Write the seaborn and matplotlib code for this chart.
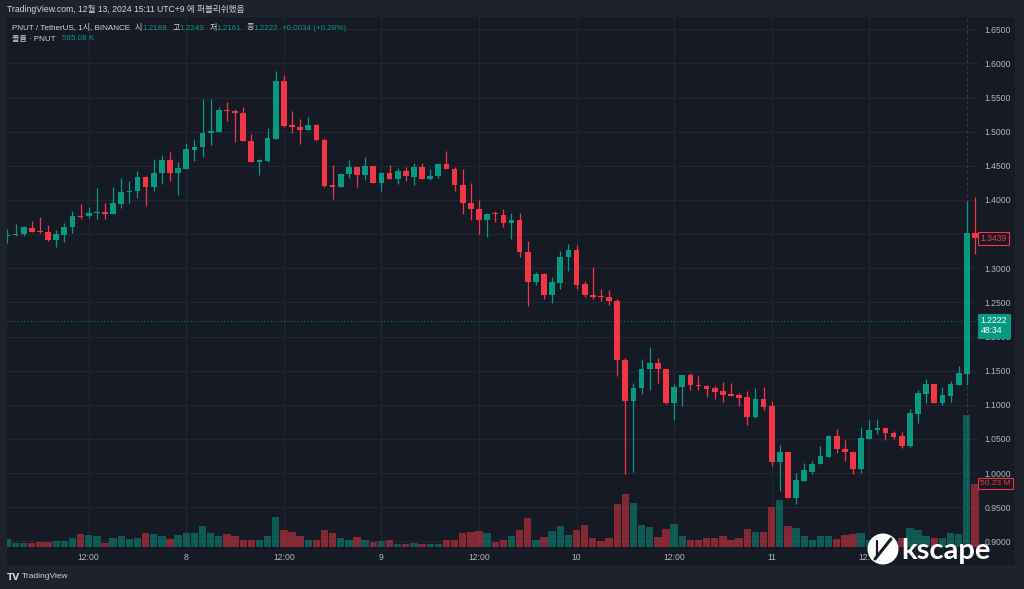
import numpy as np
import pandas as pd
import matplotlib
matplotlib.use("Agg")
import matplotlib.pyplot as plt
import matplotlib.transforms as mtransforms
from matplotlib.patches import Rectangle, Ellipse
from matplotlib.lines import Line2D
import seaborn as sns

# ---------------- data (PNUT/USDT, 1h candles) ----------------
opens = [
    1.3468, 1.3483, 1.3508, 1.3595, 1.3542, 1.3537, 1.3410, 1.3493, 1.3605, 1.3771,
    1.3761, 1.3805, 1.3820, 1.3795, 1.3947, 1.4113, 1.4132, 1.4342, 1.4186, 1.4396,
    1.4586, 1.4401, 1.4449, 1.4737, 1.4776, 1.4981, 1.5001, 1.5318, 1.5303, 1.5279,
    1.4864, 1.4562, 1.4571, 1.4893, 1.5743, 1.5094, 1.5069, 1.5020, 1.5103, 1.4879,
    1.4215, 1.4196, 1.4381, 1.4484, 1.4362, 1.4493, 1.4254, 1.4396, 1.4313, 1.4425,
    1.4342, 1.4479, 1.4303, 1.4357, 1.4527, 1.4459, 1.4220, 1.3956, 1.3869, 1.3708,
    1.3810, 1.3785, 1.3663, 1.3703, 1.3239, 1.2805, 1.2912, 1.2614, 1.2780, 1.3161,
    1.3268, 1.2766, 1.2609, 1.2585, 1.2580, 1.2517, 1.1663, 1.1062, 1.1253, 1.1521,
    1.1609, 1.1526, 1.1023, 1.1258, 1.1433, 1.1292, 1.1282, 1.1243, 1.1199, 1.1155,
    1.1145, 1.1116, 1.0823, 1.1087, 1.0979, 1.0165, 1.0306, 0.9637, 0.9891, 1.0018,
    1.0135, 1.0243, 1.0545, 1.0355, 1.0316, 1.0057, 1.0506, 1.0628, 1.0667, 1.0589,
    1.0545, 1.0399, 1.0867, 1.1165, 1.1306, 1.1033, 1.1131, 1.1297, 1.1453, 1.3512,
]
highs = [
    1.3571, 1.3649, 1.3615, 1.3693, 1.3747, 1.3630, 1.3556, 1.3659, 1.3844, 1.3942,
    1.3898, 1.4176, 1.3956, 1.4186, 1.4322, 1.4283, 1.4420, 1.4347, 1.4596, 1.4654,
    1.4703, 1.4557, 1.4840, 1.4889, 1.5484, 1.5474, 1.5362, 1.5435, 1.5333, 1.5362,
    1.4967, 1.4596, 1.5054, 1.5894, 1.5830, 1.5308, 1.5191, 1.5220, 1.5108, 1.4908,
    1.4508, 1.4391, 1.4586, 1.4484, 1.4625, 1.4498, 1.4410, 1.4508, 1.4464, 1.4484,
    1.4537, 1.4547, 1.4449, 1.4537, 1.4723, 1.4479, 1.4449, 1.4249, 1.3996, 1.3805,
    1.3839, 1.3873, 1.3810, 1.3810, 1.3405, 1.2946, 1.2931, 1.2868, 1.3249, 1.3356,
    1.3346, 1.2809, 1.3014, 1.2702, 1.2683, 1.2551, 1.1682, 1.1321, 1.1672, 1.1843,
    1.1687, 1.1526, 1.1306, 1.1443, 1.1463, 1.1424, 1.1292, 1.1277, 1.1336, 1.1326,
    1.1180, 1.1209, 1.1243, 1.1263, 1.1053, 1.0413, 1.0306, 1.0003, 1.0155, 1.0179,
    1.0399, 1.0560, 1.0653, 1.0482, 1.0326, 1.0682, 1.0784, 1.0789, 1.0677, 1.0623,
    1.0609, 1.0936, 1.1219, 1.1380, 1.1306, 1.1258, 1.1355, 1.1575, 1.3990, 1.4049,
]
lows = [
    1.3371, 1.3478, 1.3478, 1.3527, 1.3522, 1.3405, 1.3307, 1.3390, 1.3512, 1.3717,
    1.3737, 1.3727, 1.3727, 1.3795, 1.3888, 1.3952, 1.4025, 1.3913, 1.4127, 1.4240,
    1.4274, 1.4078, 1.4449, 1.4571, 1.4630, 1.4810, 1.5001, 1.5157, 1.4854, 1.4859,
    1.4552, 1.4371, 1.4562, 1.4888, 1.5064, 1.4981, 1.4815, 1.5020, 1.4864, 1.4196,
    1.4010, 1.4196, 1.4327, 1.4186, 1.4298, 1.4254, 1.4127, 1.4303, 1.4235, 1.4283,
    1.4225, 1.4303, 1.4293, 1.4322, 1.4449, 1.4137, 1.3795, 1.3712, 1.3508, 1.3454,
    1.3683, 1.3610, 1.3434, 1.3171, 1.2448, 1.2761, 1.2546, 1.2497, 1.2702, 1.2966,
    1.2702, 1.2575, 1.2546, 1.2517, 1.2458, 1.1424, 0.9994, 1.0013, 1.1165, 1.1219,
    1.1326, 1.1014, 1.0779, 1.0989, 1.1219, 1.1219, 1.1116, 1.1082, 1.1043, 1.1136,
    1.0984, 1.0711, 1.0813, 1.0926, 1.0111, 0.9735, 0.9632, 0.9550, 0.9881, 0.9989,
    1.0135, 1.0233, 1.0291, 1.0184, 0.9984, 1.0008, 1.0496, 1.0574, 1.0487, 1.0506,
    1.0374, 1.0389, 1.0740, 1.1033, 1.1033, 1.0994, 1.1048, 1.1297, 1.1297, 1.3210,
]
closes = [
    1.3493, 1.3508, 1.3610, 1.3532, 1.3527, 1.3410, 1.3503, 1.3605, 1.3766, 1.3756,
    1.3810, 1.3815, 1.3795, 1.3956, 1.4113, 1.4132, 1.4332, 1.4186, 1.4396, 1.4586,
    1.4401, 1.4469, 1.4742, 1.4776, 1.4981, 1.5006, 1.5318, 1.5298, 1.5274, 1.4864,
    1.4557, 1.4581, 1.4903, 1.5743, 1.5089, 1.5069, 1.5020, 1.5103, 1.4874, 1.4205,
    1.4196, 1.4386, 1.4484, 1.4362, 1.4493, 1.4254, 1.4396, 1.4313, 1.4425, 1.4347,
    1.4479, 1.4303, 1.4357, 1.4527, 1.4449, 1.4220, 1.3956, 1.3864, 1.3708, 1.3795,
    1.3800, 1.3663, 1.3703, 1.3244, 1.2805, 1.2912, 1.2614, 1.2800, 1.3166, 1.3268,
    1.2761, 1.2605, 1.2575, 1.2575, 1.2517, 1.1658, 1.1062, 1.1253, 1.1526, 1.1609,
    1.1521, 1.1023, 1.1258, 1.1433, 1.1287, 1.1277, 1.1238, 1.1189, 1.1150, 1.1136,
    1.1106, 1.0828, 1.1087, 1.0975, 1.0165, 1.0316, 0.9637, 0.9896, 1.0043, 1.0140,
    1.0247, 1.0545, 1.0350, 1.0311, 1.0057, 1.0521, 1.0633, 1.0667, 1.0584, 1.0535,
    1.0394, 1.0887, 1.1170, 1.1306, 1.1033, 1.1141, 1.1306, 1.1463, 1.3522, 1.3439,
]
volumes_m = [
    6.1, 3.4, 2.9, 2.9, 3.7, 4.2, 4.8, 4.8, 7.1, 10.0,
    9.3, 9.0, 2.9, 7.1, 8.5, 6.1, 7.1, 10.8, 10.0, 8.5,
    6.6, 9.3, 11.1, 11.1, 16.4, 11.1, 8.5, 10.0, 9.0, 5.3,
    5.3, 5.8, 9.0, 23.8, 13.2, 11.6, 9.0, 5.8, 5.3, 13.7,
    11.1, 6.9, 5.3, 7.9, 5.8, 4.2, 4.8, 5.3, 2.6, 2.4,
    3.2, 2.4, 2.4, 2.1, 5.3, 5.3, 11.1, 11.6, 12.7, 11.1,
    4.2, 5.8, 9.0, 13.2, 22.7, 5.8, 7.9, 12.7, 16.9, 9.5,
    13.7, 17.5, 7.4, 4.8, 7.4, 33.8, 42.3, 34.9, 17.5, 15.9,
    7.9, 14.3, 18.0, 9.0, 5.8, 5.3, 7.4, 7.4, 8.5, 5.8,
    7.4, 14.3, 12.2, 12.2, 31.7, 37.0, 16.4, 14.8, 8.5, 5.3,
    8.5, 9.0, 6.3, 9.5, 10.0, 11.1, 5.8, 5.3, 5.3, 4.8,
    6.9, 15.3, 13.2, 8.5, 7.4, 6.9, 11.1, 10.0, 104.7, 50.23,
]
time_tick_idx = [10, 22, 34, 46, 58, 70, 82, 94, 106]
time_tick_labels = ["12:00", "8", "12:00", "9", "12:00", "10", "12:00", "11", "12:00"]
price_ticks = [0.90, 0.95, 1.00, 1.05, 1.10, 1.15, 1.20, 1.25, 1.30,
               1.35, 1.40, 1.45, 1.50, 1.55, 1.60, 1.65]
last_price = 1.3439
cross_price = 1.2222
last_volume = 50.23
legend_pieces = [("PNUT / TetherUS, 1시, BINANCE", "lab", 4), ("시", "lab", -1), ("1.2188", "val", 4),
                 ("고", "lab", -1), ("1.2249", "val", 4), ("저", "lab", -1), ("1.2161", "val", 4),
                 ("종", "lab", -1), ("1.2222", "val", 3), ("+0.0034 (+0.28%)", "val", 0)]
volume_pieces = [("볼륨 · PNUT", "lab", 5), ("585.08 K", "val", 0)]

# ---------------- style ----------------
W, H = 1024, 589
BG = "#161a25"
FRAME = "#1e222d"
GRID = "#222632"
UP = "#089981"
DN = "#f23645"
TXT = "#b2b5be"
HDR = "#d1d4dc"
LAT = ["Liberation Sans", "Noto Sans CJK KR", "DejaVu Sans"]

sns.set_theme(style="dark")
plt.rcParams["font.family"] = ["Noto Sans CJK KR", "DejaVu Sans"]

fig = plt.figure(figsize=(W / 100, H / 100), dpi=100, facecolor=FRAME)


def fx(px):
    return px / W


def fy(py):
    return 1 - py / H


fig.patches.append(Rectangle((fx(7), fy(565)), fx(1015) - fx(7), fy(17) - fy(565),
                             transform=fig.transFigure, facecolor=BG,
                             edgecolor="none", zorder=-1))

pos = [fx(7), fy(547), fx(979) - fx(7), fy(17) - fy(547)]
ax = fig.add_axes(pos)
ax.set_facecolor(BG)
axv = fig.add_axes(pos)
axv.patch.set_alpha(0)

df = pd.DataFrame({"idx": np.arange(len(opens)), "open": opens, "high": highs,
                   "low": lows, "close": closes, "vol": volumes_m})
df["dir"] = np.where(df["close"] >= df["open"], "up", "down")
colors = np.where(df["dir"] == "up", UP, DN)

# wicks and bodies
ax.vlines(df["idx"], df["low"], df["high"], colors=colors, linewidth=0.9, zorder=3)
body_bottom = np.minimum(df["open"], df["close"])
body_h = np.maximum((df["close"] - df["open"]).abs(), 0.0013)
ax.bar(df["idx"], body_h, bottom=body_bottom, width=0.7, color=colors,
       linewidth=0, zorder=4)

# volume (seaborn)
sns.barplot(data=df, x="idx", y="vol", hue="dir", palette={"up": UP, "down": DN},
            native_scale=True, dodge=False, width=0.9, errorbar=None, legend=False,
            saturation=1, alpha=0.5, linewidth=0, ax=axv)

xlim = (-0.05, 119.5)
ax.set_xlim(*xlim)
axv.set_xlim(*xlim)
ax.set_ylim(0.8918, 1.6680)
axv.set_ylim(0, 420.6)
axv.axis("off")

# grid & ticks
ax.set_xticks(time_tick_idx)
ax.set_xticklabels(time_tick_labels)
ax.yaxis.tick_right()
ax.set_yticks(price_ticks)
ax.set_yticklabels([f"{p:.4f}" for p in price_ticks])
ax.grid(True, color=GRID, linewidth=0.9)
ax.tick_params(axis="x", length=0, pad=4.5, labelsize=6.2, labelcolor=TXT)
ax.tick_params(axis="y", length=0, pad=4.0, labelsize=6.2, labelcolor=TXT)
for t in ax.get_xticklabels() + ax.get_yticklabels():
    t.set_fontfamily(["Liberation Sans", "DejaVu Sans"])
for s in ax.spines.values():
    s.set_visible(False)
ax.set_xlabel("")
ax.set_ylabel("")

# crosshair lines
ax.axhline(cross_price, color=UP, linestyle=(0, (1, 2)), linewidth=0.8, alpha=0.7, zorder=2)
ax.axvline(118, color="#3b3f4b", linewidth=0.6, linestyle=(0, (4, 3)), zorder=1)

# price labels on the right
tr = mtransforms.blended_transform_factory(ax.transAxes, ax.transData)
ax.text(1.0015, last_price, f"{last_price:.4f}", transform=tr, ha="left", va="center",
        color=DN, fontsize=6.2, family=["Liberation Sans"], zorder=10,
        bbox=dict(boxstyle="square,pad=0.25", fc=BG, ec=DN, lw=0.8))
ax.text(1.0015, cross_price - 0.0062, f"{cross_price:.4f}\n48:34", transform=tr,
        ha="left", va="center", color="white", fontsize=6.2, linespacing=1.15,
        family=["Liberation Sans"], zorder=10,
        bbox=dict(boxstyle="square,pad=0.3", fc=UP, ec=UP, lw=0.8))
trv = mtransforms.blended_transform_factory(axv.transAxes, axv.transData)
axv.text(1.0015, last_volume, f"{last_volume:.2f} M", transform=trv, ha="left",
         va="center", color=DN, fontsize=6.0, family=["Liberation Sans"], zorder=10,
         bbox=dict(boxstyle="square,pad=0.25", fc=BG, ec=DN, lw=0.8))

# header texts
fig.text(fx(7), fy(10), "TradingView.com, 12월 13, 2024 15:11 UTC+9 에 퍼블리쉬했음",
         color=HDR, fontsize=6.2, va="center", ha="left", family=LAT)

renderer = fig.canvas.get_renderer()


def lay_out(pieces, x0, ypx, size):
    x = x0
    for txt, kind, gap in pieces:
        t = fig.text(fx(x), fy(ypx), txt, color=(UP if kind == "val" else HDR),
                     fontsize=size, va="center", ha="left", family=LAT)
        bb = t.get_window_extent(renderer=renderer)
        x = x + bb.width + 1 + gap


lay_out(legend_pieces, 12, 28, 5.8)
lay_out(volume_pieces, 12, 39, 5.8)

# footer TradingView mark
fig.text(fx(7), fy(577), "TV", color=HDR, fontsize=6.5, fontweight="bold", va="center",
         family=["DejaVu Sans"])
fig.text(fx(22), fy(577), "TradingView", color=HDR, fontsize=6.0, va="center",
         family=["Liberation Sans"])

# kscape logo
fig.patches.append(Ellipse((fx(883), fy(549)), 31 / W, 31 / H, transform=fig.transFigure,
                           facecolor="white", edgecolor="none", zorder=20))
fig.lines.append(Line2D([fx(875), fx(891)], [fy(559), fy(539)], transform=fig.transFigure,
                        color=BG, linewidth=2.2, zorder=21))
fig.lines.append(Line2D([fx(877), fx(877)], [fy(541), fy(557)], transform=fig.transFigure,
                        color=BG, linewidth=1.6, zorder=21))
fig.text(fx(901), fy(551), "kscape", color="white", fontsize=21, fontweight="bold",
         va="center", ha="left", family=["Lato", "DejaVu Sans"], zorder=22)

fig.savefig("out.png", dpi=100, facecolor=FRAME)
